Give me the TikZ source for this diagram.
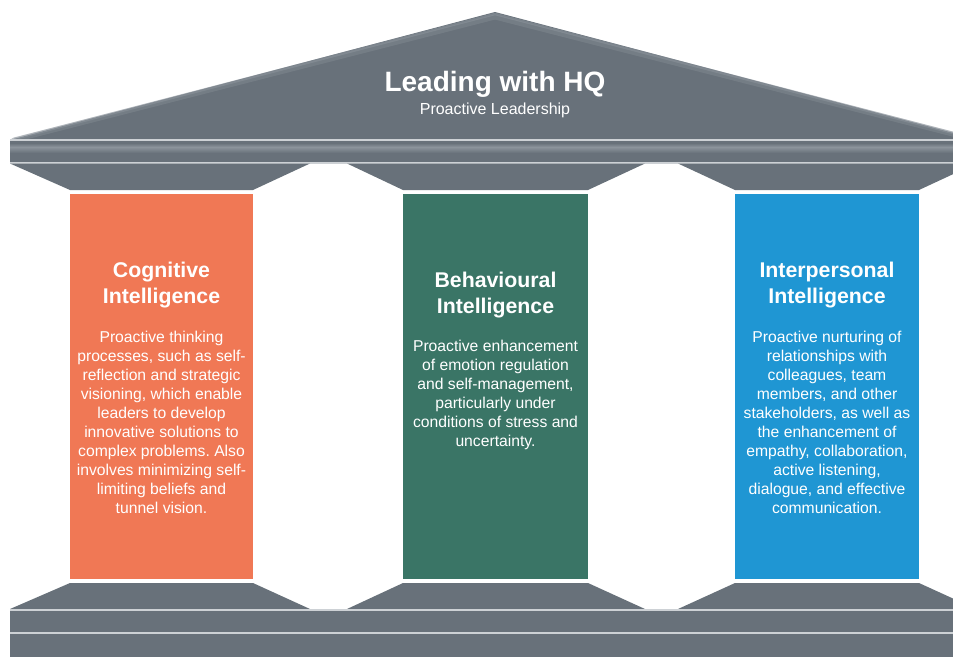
\documentclass[tikz,border=0pt]{standalone}
\usepackage{fontspec}
\setmainfont{Liberation Sans}
\frenchspacing
\begin{document}
\begin{tikzpicture}[x=1pt,y=-1pt,
  stone/.style={fill=stonegray,draw=none},
  pillartext/.style={text=white,align=center,inner sep=0pt},
  headtext/.style={pillartext,font=\fontsize{21.3}{26}\selectfont\bfseries},
  bodytext/.style={pillartext,font=\fontsize{15.7}{19}\selectfont}]
\definecolor{stonegray}{HTML}{68717A}
\definecolor{rimgray}{HTML}{CDD1D5}
\definecolor{bevelgray}{HTML}{8C949C}
\definecolor{cogorange}{HTML}{F07855}
\definecolor{behgreen}{HTML}{3A7566}
\definecolor{intblue}{HTML}{1F96D3}
\useasboundingbox (0,0) rectangle (953,656);
\clip (0,0) rectangle (953,656);
% roof
\fill[stonegray] (10,140) -- (495,12) -- (980,140) -- cycle;
\draw[bevelgray,line width=5pt,line join=round,opacity=0.35] (14,140) -- (495,17) -- (976,140);
\draw[bevelgray,line width=2.5pt,line join=round,opacity=0.55] (12,139.5) -- (495,14) -- (978,139.5);
% entablature
\fill[stonegray] (10,139) rectangle (980,163.5);
\fill[rimgray] (10,139) rectangle (980,141);
\shade[top color=stonegray,bottom color=bevelgray] (10,143) rectangle (980,147);
\shade[top color=bevelgray,bottom color=stonegray] (10,147) rectangle (980,153);
\fill[rimgray] (10,161.5) rectangle (980,163.5);
% capitals (top)
\fill[stone] (10,163.5) -- (310,163.5) -- (253,190) -- (70,190) -- cycle;
\fill[stone] (347,163.5) -- (645,163.5) -- (588,190) -- (403,190) -- cycle;
\fill[stone] (678,163.5) -- (976,163.5) -- (919,190) -- (735,190) -- cycle;
% pillars
\fill[cogorange] (70,193.5) rectangle (253,579);
\fill[behgreen] (403,193.5) rectangle (588,579);
\fill[intblue] (735,193.5) rectangle (919,579);
% base capitals
\fill[stone] (70,583) -- (253,583) -- (310,609) -- (10,609) -- cycle;
\fill[stone] (403,583) -- (588,583) -- (645,609) -- (347,609) -- cycle;
\fill[stone] (735,583) -- (919,583) -- (976,609) -- (678,609) -- cycle;
% base steps
\fill[rimgray] (10,608.5) rectangle (980,611);
\fill[stone] (10,611) rectangle (980,631.5);
\fill[rimgray] (10,631.5) rectangle (980,634);
\fill[stone] (10,634) rectangle (980,660);
% title
\node[text=white,font=\fontsize{28}{32}\selectfont\bfseries,anchor=base,inner sep=0pt] (title) at (495,91) {Leading with HQ};
\node[text=white,font=\fontsize{16}{19}\selectfont,anchor=base,inner sep=0pt] (subtitle) at (495,114) {Proactive Leadership};
% pillar texts
\node[headtext] (coghead) at (161.5,285.5) {Cognitive\\Intelligence};
\node[bodytext] (cogbody) at (161.5,422.5) {Proactive thinking\\processes, such as self-\\reflection and strategic\\visioning, which enable\\leaders to develop\\innovative solutions to\\complex problems. Also\\involves minimizing self-\\limiting beliefs and\\tunnel vision.};
\node[headtext] (behhead) at (495.5,295.5) {Behavioural\\Intelligence};
\node[bodytext] (behbody) at (495.5,394.5) {Proactive enhancement\\of emotion regulation\\and self-management,\\particularly under\\conditions of stress and\\uncertainty.};
\node[headtext] (inthead) at (827,285.5) {Interpersonal\\Intelligence};
\node[bodytext] (intbody) at (827,422.5) {Proactive nurturing of\\relationships with\\colleagues, team\\members, and other\\stakeholders, as well as\\the enhancement of\\empathy, collaboration,\\active listening,\\dialogue, and effective\\communication.};
\end{tikzpicture}
\end{document}
